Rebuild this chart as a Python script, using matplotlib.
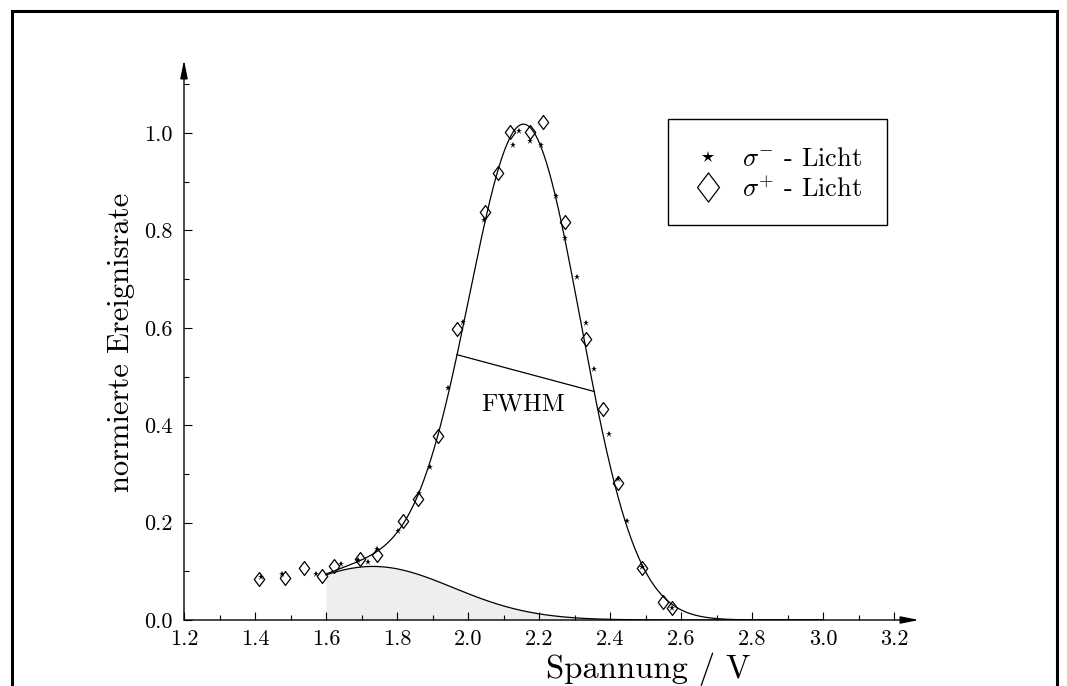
import numpy as np
import matplotlib
matplotlib.use("Agg")
import matplotlib.pyplot as plt
from matplotlib.lines import Line2D
from matplotlib.patches import Rectangle
from matplotlib.path import Path
from matplotlib.ticker import MultipleLocator

# ---- data ----
sigma_minus_x = [1.417, 1.476, 1.572, 1.642, 1.690, 1.718, 1.744, 1.803, 1.862,
                 1.893, 1.944, 1.986, 2.045, 2.127, 2.144, 2.175, 2.206, 2.248,
                 2.272, 2.307, 2.332, 2.355, 2.397, 2.423, 2.448, 2.490, 2.575]
sigma_minus_y = [0.088, 0.095, 0.094, 0.115, 0.123, 0.120, 0.146, 0.183, 0.260,
                 0.314, 0.476, 0.611, 0.821, 0.976, 1.005, 0.984, 0.976, 0.871,
                 0.785, 0.705, 0.610, 0.515, 0.382, 0.289, 0.203, 0.108, 0.025]

sigma_plus_x = [1.411, 1.485, 1.538, 1.589, 1.623, 1.696, 1.743, 1.817, 1.859,
                1.914, 1.969, 2.048, 2.084, 2.119, 2.175, 2.211, 2.272, 2.332,
                2.380, 2.423, 2.490, 2.549, 2.574]
sigma_plus_y = [0.084, 0.086, 0.107, 0.090, 0.111, 0.126, 0.133, 0.203, 0.249,
                0.378, 0.597, 0.837, 0.917, 1.002, 1.002, 1.022, 0.817, 0.577,
                0.434, 0.281, 0.107, 0.037, 0.025]

# fit model parameters (main peak + low-energy shoulder)
peak_center = 2.16
peak_amplitude = 1.0
peak_width = 0.158
shoulder_center = 1.732
shoulder_amplitude = 0.11
shoulder_width = 0.225
fit_range = (1.6, 3.0)
fwhm_x = [1.969, 2.355]          # ends of the FWHM marker line

x_ticks = [1.2, 1.4, 1.6, 1.8, 2.0, 2.2, 2.4, 2.6, 2.8, 3.0, 3.2]
y_ticks = [0.0, 0.2, 0.4, 0.6, 0.8, 1.0]
legend_labels = [r"$\sigma^{-}$ - Licht", r"$\sigma^{+}$ - Licht"]

plt.rcParams.update({
    "font.family": ["cmr10"],
    "mathtext.fontset": "cm",
    "axes.formatter.use_mathtext": True,
    "axes.unicode_minus": False,
})

W, H = 1067, 686
fig = plt.figure(figsize=(W / 100, H / 100), dpi=100)
ax = fig.add_axes([184 / W, 66 / H, (919 - 184) / W, (620 - 60) / H])
ax.set_xlim(1.2, 3.27)
ax.set_ylim(0, 1.15)

# fit curves
xf = np.linspace(fit_range[0], fit_range[1], 600)
shoulder = shoulder_amplitude * np.exp(-(xf - shoulder_center) ** 2 / (2 * shoulder_width ** 2))
main = peak_amplitude * np.exp(-(xf - peak_center) ** 2 / (2 * peak_width ** 2))
total = shoulder + main

ax.fill_between(xf, 0, shoulder, color="#eeeeee", lw=0, zorder=1)
ax.plot(xf, shoulder, color="k", lw=0.9, zorder=2)
ax.plot(xf, total, color="k", lw=0.9, zorder=2)

# FWHM line, ends sitting on the fit curve
fy = np.interp(fwhm_x, xf, total)
ax.plot(fwhm_x, fy, color="k", lw=0.9, zorder=2)
ax.text(2.155, 0.443, "FWHM", ha="center", va="center", fontsize=18)

# markers
diamond = Path([(0, 1), (0.75, 0), (0, -1), (-0.75, 0), (0, 1)],
               [Path.MOVETO, Path.LINETO, Path.LINETO, Path.LINETO, Path.CLOSEPOLY])
ax.plot(sigma_plus_x, sigma_plus_y, ls="none", marker=diamond, ms=10,
        mfc="none", mec="k", mew=0.9, zorder=3, clip_on=False)
ax.plot(sigma_minus_x, sigma_minus_y, ls="none", marker="*", ms=5,
        color="k", mew=0, zorder=4, clip_on=False)

# axes with arrows
for s in ax.spines.values():
    s.set_visible(False)
arrow = dict(arrowstyle="-|>,head_length=1.1,head_width=0.22", lw=1.0,
             color="k", mutation_scale=10, shrinkA=0, shrinkB=0)
ax.annotate("", xy=(1, 0), xytext=(0, 0), xycoords="axes fraction",
            textcoords="axes fraction", arrowprops=arrow, annotation_clip=False)
ax.annotate("", xy=(0, 1), xytext=(0, 0), xycoords="axes fraction",
            textcoords="axes fraction", arrowprops=arrow, annotation_clip=False)

ax.set_xticks(x_ticks)
ax.set_xticklabels([f"{t:.1f}" for t in x_ticks])
ax.set_yticks(y_ticks)
ax.set_yticklabels([f"{t:.1f}" for t in y_ticks])
ax.xaxis.set_minor_locator(MultipleLocator(0.1))
ax.yaxis.set_minor_locator(MultipleLocator(0.1))
ax.tick_params(which="major", direction="in", length=6, width=0.8, labelsize=16)
ax.tick_params(which="minor", direction="in", length=3.5, width=0.8)
ax.tick_params(axis="x", pad=7)
ax.tick_params(axis="y", pad=8.5)

ax.set_xlabel("Spannung / V", fontsize=23.5)
ax.xaxis.set_label_coords(0.631, -0.058)
ax.set_ylabel("normierte Ereignisrate", fontsize=22)
ax.yaxis.set_label_coords(-0.066, 0.495)

# legend (frame drawn separately so padding can match the reference)
handles = [Line2D([], [], ls="none", marker="*", ms=9, color="k", mew=0),
           Line2D([], [], ls="none", marker=diamond, ms=21, mfc="none", mec="k", mew=0.9)]
leg = fig.legend(handles, legend_labels, loc="center left",
                 bbox_to_anchor=(692 / W, 1 - 174.5 / H), fontsize=19,
                 frameon=False, borderpad=0, handletextpad=0.68, labelspacing=0.2,
                 handlelength=1.21, borderaxespad=0)
fig.patches.append(Rectangle((668 / W, 1 - 225 / H), 219 / W, 106 / H,
                             transform=fig.transFigure, fill=False, ec="k", lw=1.0))

# outer frame
fig.patches.append(Rectangle((11.5 / W, -0.2), (1056.5 - 11.5) / W, 1.2 - 10.5 / H,
                             transform=fig.transFigure, fill=False, ec="k", lw=2.2))

fig.savefig("out.png", dpi=100)
